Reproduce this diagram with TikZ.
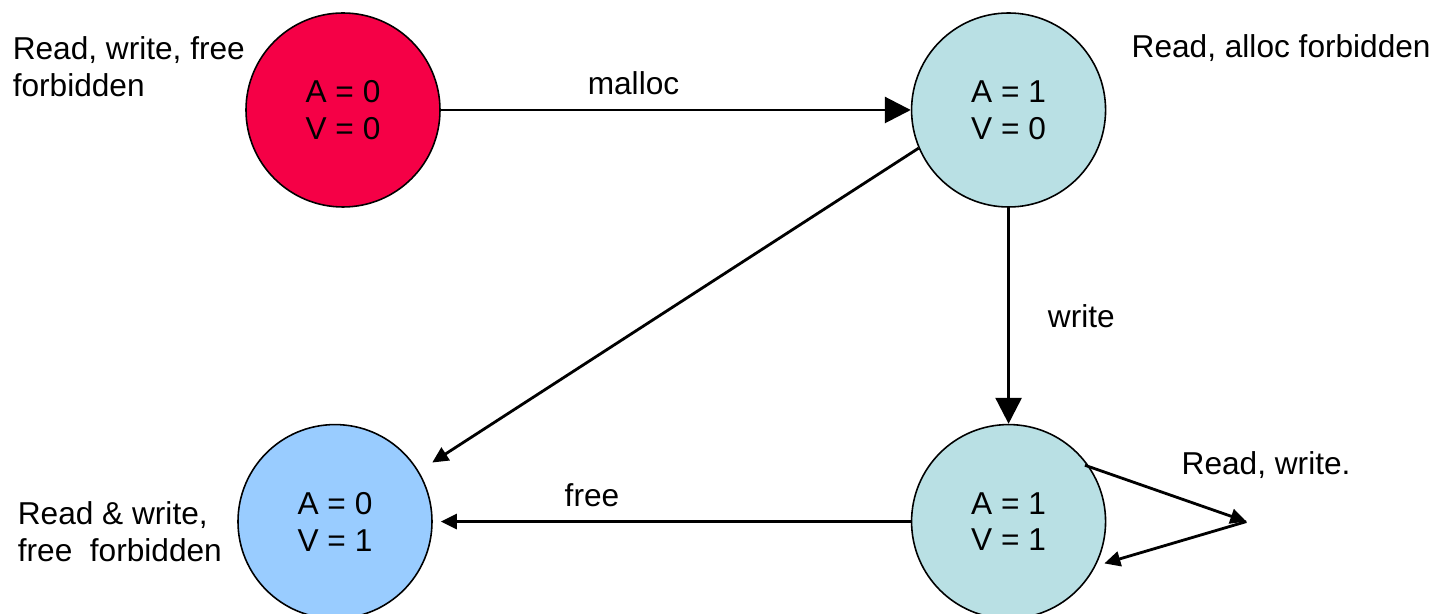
\documentclass[tikz,border=0pt]{standalone}
\usepackage{fontspec}
\setmainfont{Liberation Sans}
\usetikzlibrary{positioning,arrows.meta}

\definecolor{deadred}{RGB}{245,0,70}
\definecolor{allocteal}{RGB}{185,224,228}
\definecolor{freeblue}{RGB}{153,204,255}

\begin{document}
\begin{tikzpicture}[node distance=9.4cm,font=\fontsize{18}{21}\selectfont]

	\tikzstyle{state}=[draw=black,line width=0.9pt,circle,minimum size=3.88cm,inner sep=0pt,align=center]
	\tikzstyle{note}=[align=left,inner sep=0pt]
	\tikzstyle{big}=[line width=1.6pt,-{Triangle[length=0.52cm,width=0.52cm]}]
	\tikzstyle{small}=[line width=1.6pt,-{Triangle[length=0.32cm,width=0.3cm]}]

	\useasboundingbox (-6.86,2.2) rectangle (21.88,-10.08);

	% the four (A,V) states
	\node[state, fill=deadred] (a0v0) {A = 0\\V = 0};
	\node[state, right=of a0v0, fill=allocteal] (a1v0) {A = 1\\V = 0};
	\node[state, below=4.32cm of a1v0, fill=allocteal] (a1v1) {A = 1\\V = 1};
	\node[state, below=4.32cm of a0v0, xshift=-0.16cm, fill=freeblue] (a0v1) {A = 0\\V = 1};

	% what is allowed in each state
	\node[note, left=0pt of a0v0, yshift=0.86cm] (n00) {Read, write, free\\forbidden};
	\node[note, right=0.5cm of a1v0, yshift=1.24cm] (n10) {Read, alloc forbidden};
	\node[note, left=0.3cm of a0v1, yshift=-0.2cm] (n01) {Read \& write,\\free\ \ forbidden};
	\node[note, right=1.5cm of a1v1, yshift=1.14cm] (n11) {Read, write.};

	\coordinate[right=2.8cm of a1v1] (loop);

	\draw[big] (a0v0) -- node[pos=0.41, above=0.28cm, inner sep=0pt] (lmalloc) {malloc} (a1v0);
	\draw[big] (a1v0) -- node[right=0.76cm, inner sep=0pt] (lwrite) {write} (a1v1);
	\draw[small, shorten >=0.32cm] (a1v0.203) -- (a0v1.31);
	\draw[small, shorten >=0.16cm] (a1v1) -- node[pos=0.667, above=0.26cm, inner sep=0pt] (lfree) {free} (a0v1);
	\draw[small, shorten <=-0.1cm] (a1v1.34) -- (loop);
	\draw[small, shorten >=0.18cm] (loop) -- (a1v1.-27);
\end{tikzpicture}
\end{document}
